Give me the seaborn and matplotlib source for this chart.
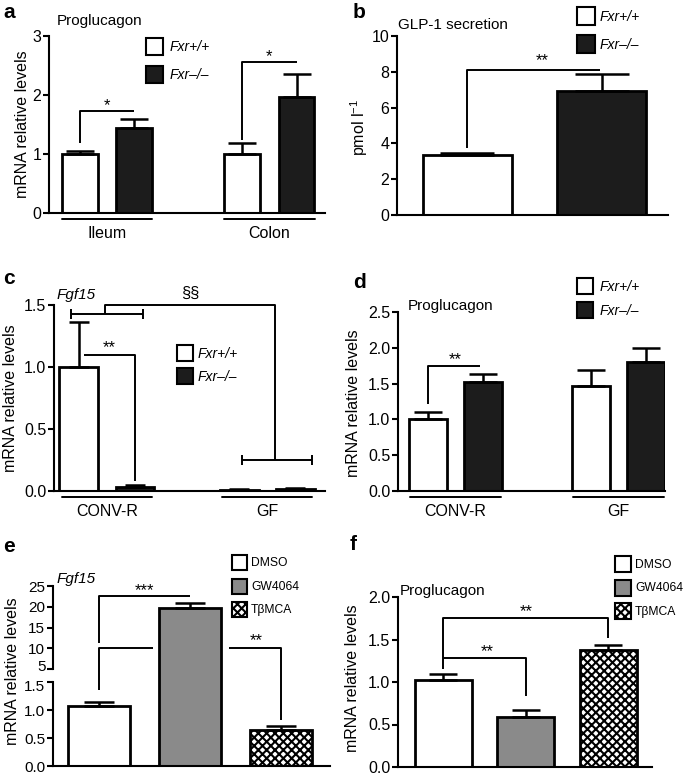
import matplotlib
matplotlib.use('Agg')
import matplotlib.pyplot as plt
from matplotlib.patches import Patch
from matplotlib.transforms import Bbox, TransformedBbox, ScaledTranslation
import seaborn as sns
import pandas as pd

sns.set_style('ticks', {'axes.edgecolor': 'black', 'xtick.color': 'black',
                        'ytick.color': 'black', 'text.color': 'black',
                        'axes.labelcolor': 'black'})
plt.rcParams['font.family'] = ['Liberation Sans', 'DejaVu Sans']
plt.rcParams['hatch.linewidth'] = 1.5
plt.rcParams['mathtext.default'] = 'regular'

W, H = 685, 776
KO_COLOR = '#1c1c1c'
GW_COLOR = '#8a8a8a'

genotypes = ['Fxr+/+', 'Fxr–/–']

# a: proglucagon, ileum / colon
a_groups = ['Ileum', 'Colon']
a_wt = [1.00, 1.00]
a_wt_err = [0.05, 0.18]
a_ko = [1.44, 1.97]
a_ko_err = [0.16, 0.39]

# b: GLP-1 secretion
b_values = [3.35, 6.93]
b_err = [0.13, 0.97]

# c: Fgf15, CONV-R / GF
c_groups = ['CONV-R', 'GF']
c_wt = [1.00, 0.012]
c_wt_err = [0.36, 0.006]
c_ko = [0.035, 0.015]
c_ko_err = [0.01, 0.006]

# d: proglucagon, CONV-R / GF
d_groups = ['CONV-R', 'GF']
d_wt = [1.00, 1.47]
d_wt_err = [0.11, 0.22]
d_ko = [1.52, 1.80]
d_ko_err = [0.11, 0.20]

# e, f: treatments
treatments = ['DMSO', 'GW4064', 'TβMCA']
e_val = [1.07, 19.6, 0.64]
e_err = [0.08, 1.3, 0.08]
f_val = [1.02, 0.59, 1.38]
f_err = [0.08, 0.08, 0.06]

fig = plt.figure(figsize=(W / 100, H / 100), dpi=100)


def px_axes(x0, y0, x1, y1):
    return fig.add_axes([x0 / W, 1 - y1 / H, (x1 - x0) / W, (y1 - y0) / H])


def style(ax, ylim, ticks, fmt='{:g}', size=11.5):
    ax.set_ylim(*ylim)
    ax.set_yticks(ticks)
    ax.set_yticklabels([fmt.format(t) for t in ticks])
    sns.despine(ax=ax)
    for s in ax.spines.values():
        s.set_linewidth(1.5)
    ax.tick_params(axis='y', length=4, width=1.5, pad=1.5, labelsize=size)
    ax.set_xlabel('')
    ax.set_ylabel('')


def mid(b):
    return b.get_x() + b.get_width() / 2


def add_caps(ax, bars, errs, capsize):
    xs = [mid(b) for b in bars]
    ys = [b.get_height() for b in bars]
    ax.errorbar(xs, ys, yerr=[[0] * len(errs), errs], fmt='none', ecolor='black',
                elinewidth=1.8, capsize=capsize, capthick=1.8)


def line(ax, xs, ys, lw=1.4):
    ax.plot(xs, ys, color='black', lw=lw, clip_on=False, solid_capstyle='butt')


def star(ax, x, y, s, size=12):
    ax.text(x, y, s, ha='center', va='center', fontsize=size)


def underline(ax, cx, half, yfrac):
    ax.plot([cx - half, cx + half], [yfrac, yfrac], transform=ax.get_xaxis_transform(),
            color='black', lw=1.4, clip_on=False)


def ibeam(ax, cx, half, y, tick):
    line(ax, [cx - half, cx + half], [y, y])
    line(ax, [cx - half, cx - half], [y - tick, y + tick])
    line(ax, [cx + half, cx + half], [y - tick, y + tick])


def add_legend(ax, labels, faces, hatches, left, top, box, pitch, pad, italic, fs=9.5):
    fpx = fs * 100 / 72
    hl = box / fpx
    hh = (box / fpx - 0.245) / 0.65
    handles = [Patch(facecolor=f, edgecolor='black', hatch=h, linewidth=1.5)
               for f, h in zip(faces, hatches)]
    ax.legend(handles, labels, loc='upper left', bbox_to_anchor=(left / W, 1 - top / H),
              bbox_transform=fig.transFigure, frameon=False, borderpad=0, borderaxespad=0,
              handlelength=hl, handleheight=hh, labelspacing=(pitch - box) / fpx,
              handletextpad=pad / fpx,
              prop={'size': fs, 'style': 'italic' if italic else 'normal'})


def fig_text(x, y, s, **kw):
    fig.text(x / W, 1 - y / H, s, ha='left', va='center', **kw)


def grouped(ax, groups, wt, ko, wt_err, ko_err, width, gap, capsize):
    df = pd.DataFrame({'group': groups * 2,
                       'geno': [genotypes[0]] * len(groups) + [genotypes[1]] * len(groups),
                       'value': wt + ko})
    sns.barplot(data=df, x='group', y='value', hue='geno', hue_order=genotypes,
                palette=['white', KO_COLOR], edgecolor='black', linewidth=2,
                width=width, gap=gap, errorbar=None, saturation=1, legend=False, ax=ax)
    wt_bars = list(ax.containers[0])
    ko_bars = list(ax.containers[1])
    add_caps(ax, wt_bars, wt_err, capsize)
    add_caps(ax, ko_bars, ko_err, capsize)
    ax.tick_params(axis='x', length=0, pad=9, labelsize=11.5)
    return wt_bars, ko_bars


# ---------------- a ----------------
ax_a = px_axes(49, 36, 325, 213)
wt, ko = grouped(ax_a, a_groups, a_wt, a_ko, a_wt_err, a_ko_err, 0.667, 0.34, 10)
style(ax_a, (0, 3), [0, 1, 2, 3])
ax_a.set_xlim(-0.357, 1.342)
ax_a.set_ylabel('mRNA relative levels', fontsize=11.5)
ax_a.yaxis.set_label_coords(-0.069, 0.5)
for i in range(2):
    underline(ax_a, i, 0.28, -0.034)
line(ax_a, [mid(wt[0])] * 2 + [mid(ko[0])], [1.18, 1.73, 1.73])
star(ax_a, (mid(wt[0]) + mid(ko[0])) / 2, 1.82, '*')
line(ax_a, [mid(wt[1])] * 2 + [mid(ko[1])], [1.24, 2.56, 2.56])
star(ax_a, (mid(wt[1]) + mid(ko[1])) / 2, 2.65, '*')
add_legend(ax_a, genotypes, ['white', KO_COLOR], [None, None], 146, 38, 17, 28, 7, True, 10)
fig_text(3, 13, 'a', fontsize=15, fontweight='bold')
fig_text(57, 21, 'Proglucagon', fontsize=11)

# ---------------- b ----------------
ax_b = px_axes(397, 36, 668, 215)
sns.barplot(x=genotypes, y=b_values, hue=genotypes, palette=['white', KO_COLOR],
            edgecolor='black', linewidth=2, width=0.66, errorbar=None, saturation=1,
            legend=False, ax=ax_b)
bars_b = sorted(ax_b.patches, key=lambda p: p.get_x())
add_caps(ax_b, bars_b, b_err, 19.5)
style(ax_b, (0, 10), [0, 2, 4, 6, 8, 10])
ax_b.set_xlim(-0.526, 1.496)
ax_b.set_xticks([])
ax_b.set_ylabel('pmol l$^{-1}$', fontsize=11.5)
ax_b.yaxis.set_label_coords(-0.10, 0.49)
line(ax_b, [mid(bars_b[0])] * 2 + [mid(bars_b[1]) - 0.015], [3.72, 8.09, 8.09])
star(ax_b, 0.56, 8.6, '**')
add_legend(ax_b, genotypes, ['white', KO_COLOR], [None, None], 577, 7, 18, 28, 5, True, 10)
fig_text(353, 12, 'b', fontsize=15, fontweight='bold')
fig_text(398, 25, 'GLP-1 secretion', fontsize=11)

# ---------------- c ----------------
ax_c = px_axes(54, 305, 325, 491)
wt, ko = grouped(ax_c, c_groups, c_wt, c_ko, c_wt_err, c_ko_err, 0.7, 0.31, 7.5)
style(ax_c, (0, 1.5), [0, 0.5, 1.0, 1.5], '{:.1f}')
ax_c.set_xlim(-0.33, 1.36)
ax_c.set_ylabel('mRNA relative levels', fontsize=11.5)
ax_c.yaxis.set_label_coords(-0.133, 0.5)
for i in range(2):
    underline(ax_c, i, 0.28, -0.032)
x_start = mid(wt[0]) + 0.03
line(ax_c, [x_start, mid(ko[0]), mid(ko[0])], [1.096, 1.096, 0.08])
star(ax_c, (x_start + mid(ko[0])) / 2, 1.16, '**')
ibeam(ax_c, 0, 0.222, 1.43, 0.04)
ibeam(ax_c, 1.06, 0.22, 0.248, 0.04)
line(ax_c, [-0.0125, -0.0125, 1.05, 1.05], [1.43, 1.5, 1.5, 0.248])
star(ax_c, 0.52, 1.59, '§§', size=12)
add_legend(ax_c, genotypes, ['white', KO_COLOR], [None, None], 177, 345, 16, 23, 5, True, 10)
fig_text(3, 278, 'c', fontsize=15, fontweight='bold')
fig_text(57, 295, 'Fgf15', fontsize=11, style='italic')

# ---------------- d ----------------
ax_d = px_axes(398, 312, 665, 491)
wt, ko = grouped(ax_d, d_groups, d_wt, d_ko, d_wt_err, d_ko_err, 0.675, 0.31, 10)
style(ax_d, (0, 2.5), [0, 0.5, 1.0, 1.5, 2.0, 2.5], '{:.1f}')
ax_d.set_xlim(-0.353, 1.285)
ax_d.set_ylabel('mRNA relative levels', fontsize=11.5)
ax_d.yaxis.set_label_coords(-0.139, 0.49)
for i in range(2):
    underline(ax_d, i, 0.278, -0.034)
line(ax_d, [mid(wt[0])] * 2 + [mid(ko[0]) - 0.02], [1.22, 1.74, 1.74])
star(ax_d, (mid(wt[0]) + mid(ko[0])) / 2, 1.84, '**')
add_legend(ax_d, genotypes, ['white', KO_COLOR], [None, None], 577, 278, 16, 24, 7, True, 10)
fig_text(353, 282, 'd', fontsize=15, fontweight='bold')
fig_text(408, 306, 'Proglucagon', fontsize=11)

# ---------------- e (broken axis) ----------------
ax_et = px_axes(53, 586, 330, 669)
ax_eb = px_axes(53, 682, 330, 766)
e_bars = {}
for ax in (ax_et, ax_eb):
    sns.barplot(x=treatments, y=e_val, hue=treatments, palette=['white', GW_COLOR, 'white'],
                edgecolor='black', linewidth=2, width=0.68, errorbar=None, saturation=1,
                legend=False, ax=ax)
    bars = sorted(ax.patches, key=lambda p: p.get_x())
    bars[2].set_hatch('xxxx')
    add_caps(ax, bars, e_err, 11)
    ax.set_xlim(-0.505, 2.54)
    ax.set_xticks([])
    e_bars[ax] = bars
style(ax_et, (5, 25), [5, 10, 15, 20, 25], size=11)
ax_et.spines['bottom'].set_visible(False)
style(ax_eb, (0, 1.5), [0, 0.5, 1.0, 1.5], '{:.1f}', size=11)
# keep the "5" and "1.5" labels at the break from touching
nudge = ax_et.get_yticklabels()[0]
nudge.set_transform(nudge.get_transform() + ScaledTranslation(0, 2.5 / 72, fig.dpi_scale_trans))
nudge = ax_eb.get_yticklabels()[-1]
nudge.set_transform(nudge.get_transform() + ScaledTranslation(0, -2.5 / 72, fig.dpi_scale_trans))
# let the tall bar run through the gap between the two axes
gap_box = TransformedBbox(Bbox.from_extents(53 / W, 1 - 682 / H, 330 / W, 1 - 586 / H),
                          fig.transFigure)
gw_top = e_bars[ax_et][1]
gw_top.set_clip_path(None)
gw_top.set_clip_box(gap_box)
ax_eb.set_ylabel('mRNA relative levels', fontsize=11.5)
ax_eb.yaxis.set_label_coords(-0.119, 1.13)


def t2b(y):
    return ax_eb.transData.inverted().transform(ax_et.transData.transform((0, y)))[1]


xe = [mid(b) for b in e_bars[ax_eb]]
line(ax_et, [xe[0], xe[0], xe[1]], [11.3, 22.6, 22.6])
star(ax_et, 0.5, 24.0, '***')
y10 = t2b(10)
line(ax_eb, [xe[0], xe[0], 0.59], [1.357, y10, y10])
line(ax_eb, [1.43, xe[2], xe[2]], [y10, y10, 0.82])
star(ax_et, 1.73, 11.8, '**')
add_legend(ax_et, treatments, ['white', GW_COLOR, 'white'], [None, None, 'xxxx'],
           232, 555, 15, 23.5, 4, False, 8.7)
fig_text(3, 547, 'e', fontsize=15, fontweight='bold')
fig_text(57, 579, 'Fgf15', fontsize=11, style='italic')

# ---------------- f ----------------
ax_f = px_axes(398, 597, 652, 767)
sns.barplot(x=treatments, y=f_val, hue=treatments, palette=['white', GW_COLOR, 'white'],
            edgecolor='black', linewidth=2, width=0.69, errorbar=None, saturation=1,
            legend=False, ax=ax_f)
bars_f = sorted(ax_f.patches, key=lambda p: p.get_x())
bars_f[2].set_hatch('xxxx')
add_caps(ax_f, bars_f, f_err, 10)
style(ax_f, (0, 2.0), [0, 0.5, 1.0, 1.5, 2.0], '{:.1f}')
ax_f.set_xlim(-0.55, 2.53)
ax_f.set_xticks([])
ax_f.set_ylabel('mRNA relative levels', fontsize=11.5)
ax_f.yaxis.set_label_coords(-0.15, 0.52)
xf = [mid(b) for b in bars_f]
line(ax_f, [xf[0], xf[0], xf[2], xf[2]], [1.15, 1.75, 1.75, 1.52])
star(ax_f, 1.0, 1.83, '**')
line(ax_f, [xf[0], xf[1], xf[1]], [1.28, 1.28, 0.83])
star(ax_f, 0.53, 1.36, '**')
add_legend(ax_f, treatments, ['white', GW_COLOR, 'white'], [None, None, 'xxxx'],
           615, 556, 16, 23.5, 4, False, 8.7)
fig_text(350, 544, 'f', fontsize=15, fontweight='bold')
fig_text(400, 591, 'Proglucagon', fontsize=11)

fig.savefig('out.png', dpi=100)
